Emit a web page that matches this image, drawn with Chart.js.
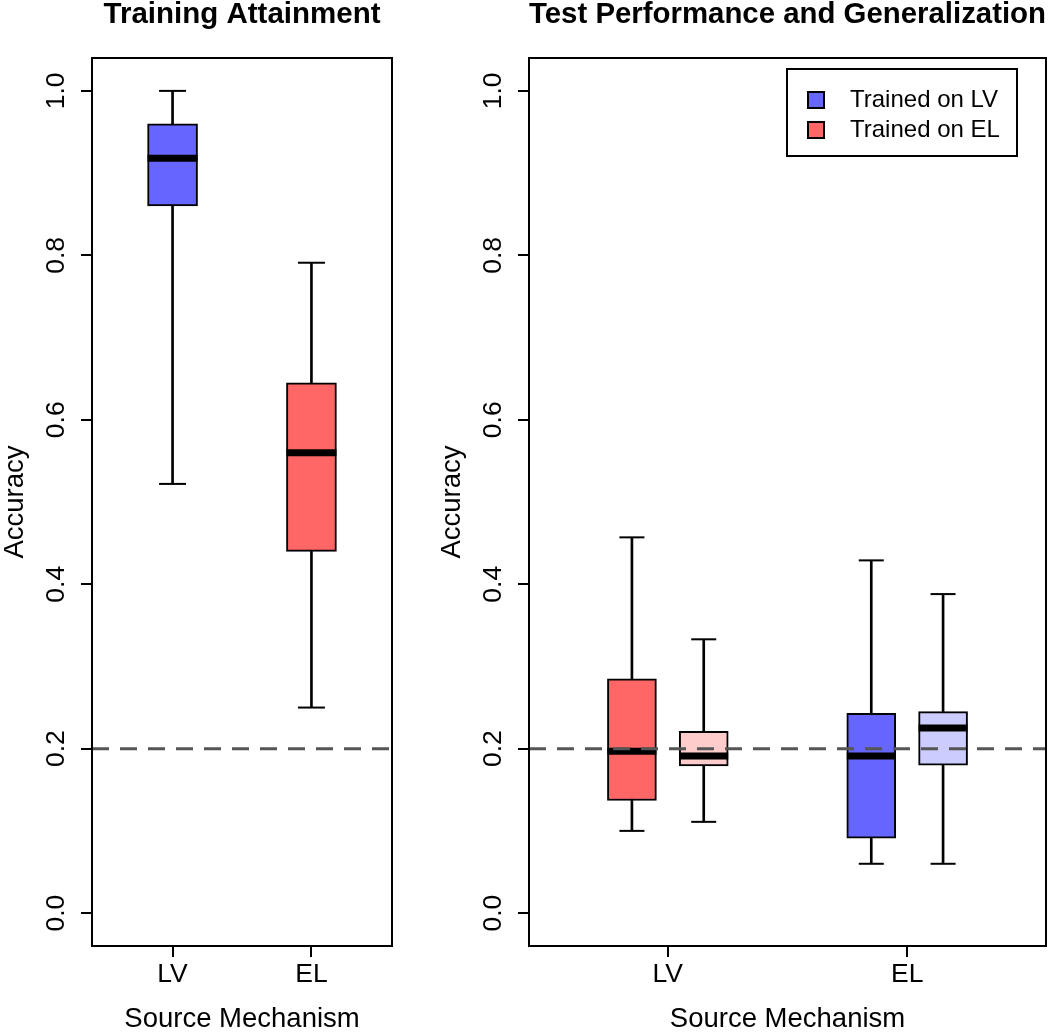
<!DOCTYPE html>
<html>
<head>
<meta charset="utf-8">
<title>Training Attainment / Test Performance and Generalization</title>
<script src="https://cdn.jsdelivr.net/npm/chart.js@4.4.1/dist/chart.umd.min.js"></script>
<style>
  html, body { margin: 0; padding: 0; background: #fff; overflow: hidden; }
  #trainChart { position: absolute; left: 0; top: 0; }
  #testChart { position: absolute; left: 437px; top: 0; }
</style>
</head>
<body>
<canvas id="trainChart" width="430" height="1033"></canvas>
<canvas id="testChart" width="613" height="1033"></canvas>
<script>
        // shared axes
        const categories = ['LV', 'EL'];
        const categoryPos = [1, 2];
        const xMin = 0.42;
        const xMax = 2.58;
        const yMin = -0.04;
        const yMax = 1.04;
        const yTicks = [0, 0.2, 0.4, 0.6, 0.8, 1.0];
        const chanceLevel = 0.2;

        // left panel: training attainment (LV blue, EL red)
        const trainPos = [1, 2];
        const trainMin = [0.522, 0.250];
        const trainQ1 = [0.860, 0.440];
        const trainMed = [0.918, 0.560];
        const trainQ3 = [0.960, 0.645];
        const trainMax = [1.000, 0.791];
        const trainColors = ['#6666FF', '#FF6666'];

        // right panel: test boxes (LV: trained on EL, trained on LV ; EL: trained on LV, trained on EL)
        const testPos = [0.85, 1.15, 1.85, 2.15];
        const testMin = [0.100, 0.111, 0.060, 0.060];
        const testQ1 = [0.137, 0.179, 0.091, 0.180];
        const testMed = [0.197, 0.191, 0.191, 0.225];
        const testQ3 = [0.285, 0.221, 0.243, 0.245];
        const testMax = [0.457, 0.333, 0.429, 0.388];
        const testColors = ['#FF6666', '#FFCCCC', '#6666FF', '#CCCCFF'];

        const legendLabels = ['Trained on LV', 'Trained on EL'];
        const legendColors = ['#6666FF', '#FF6666'];

        const fontFamily = '"Liberation Sans", Arial, Helvetica, sans-serif';
        Chart.defaults.font.family = fontFamily;
        Chart.defaults.color = '#000';

        function boxDatasets(pos, lo, q1, med, q3, hi, colors, boxWidth, capWidth) {
            return [
                {
                    type: 'line',
                    data: [{ x: xMin, y: chanceLevel }, { x: xMax, y: chanceLevel }],
                    borderColor: '#555555',
                    borderWidth: 3,
                    borderDash: [17, 11],
                    pointRadius: 0,
                    order: 0
                },
                {
                    type: 'scatter',
                    data: pos.map((x, i) => ({ x, y: med[i] })),
                    pointStyle: 'line',
                    pointRadius: boxWidth / 2,
                    pointHoverRadius: boxWidth / 2,
                    pointBorderWidth: 7,
                    pointBorderColor: '#000',
                    order: 1
                },
                {
                    type: 'scatter',
                    data: pos.flatMap((x, i) => [{ x, y: lo[i] }, { x, y: hi[i] }]),
                    pointStyle: 'line',
                    pointRadius: capWidth / 2,
                    pointHoverRadius: capWidth / 2,
                    pointBorderWidth: 2,
                    pointBorderColor: '#000',
                    order: 1
                },
                {
                    type: 'bar',
                    data: pos.map((x, i) => ({ x, y: [q1[i], q3[i]] })),
                    backgroundColor: colors,
                    borderColor: '#000',
                    borderWidth: 2,
                    borderSkipped: false,
                    barThickness: boxWidth,
                    grouped: false,
                    order: 2
                },
                {
                    type: 'bar',
                    data: pos.map((x, i) => ({ x, y: [lo[i], hi[i]] })),
                    backgroundColor: '#000',
                    borderWidth: 0,
                    barThickness: 2,
                    grouped: false,
                    order: 3
                }
            ];
        }

        function scaleConfig() {
            return {
                x: {
                    type: 'linear',
                    min: xMin,
                    max: xMax,
                    offset: false,
                    afterBuildTicks: axis => { axis.ticks = categoryPos.map(v => ({ value: v })); },
                    afterFit: axis => {
                        axis.height = 87;
                        axis.paddingLeft = 0;
                        axis.paddingRight = 0;
                    },
                    ticks: {
                        callback: (v, i) => categories[i],
                        font: { size: 26.5 },
                        color: '#000',
                        padding: 2,
                        autoSkip: false,
                        minRotation: 0,
                        maxRotation: 0
                    },
                    grid: { display: true, drawOnChartArea: false, drawTicks: true, tickLength: 11, color: '#000', lineWidth: 2, offset: false },
                    border: { display: false },
                    title: { display: true, text: 'Source Mechanism', font: { size: 27.5, lineHeight: 1 }, color: '#000', padding: 0 }
                },
                y: {
                    type: 'linear',
                    min: yMin,
                    max: yMax,
                    afterBuildTicks: axis => { axis.ticks = yTicks.map(v => ({ value: v })); },
                    afterFit: axis => {
                        axis.width = 92;
                        axis.paddingTop = 0;
                        axis.paddingBottom = 0;
                    },
                    ticks: {
                        callback: v => v.toFixed(1),
                        font: { size: 26.5 },
                        color: '#000',
                        padding: 6,
                        crossAlign: 'center',
                        autoSkip: false,
                        minRotation: 90,
                        maxRotation: 90
                    },
                    grid: { display: true, drawOnChartArea: false, drawTicks: true, tickLength: 11, color: '#000', lineWidth: 2 },
                    border: { display: false },
                    title: { display: true, text: 'Accuracy', font: { size: 27.5, lineHeight: 1.1 }, color: '#000', padding: 0 }
                }
            };
        }

        const framePlugin = {
            id: 'frame',
            afterDatasetsDraw(chart) {
                const { ctx, chartArea: a } = chart;
                ctx.save();
                ctx.strokeStyle = '#000';
                ctx.lineWidth = 2;
                ctx.strokeRect(a.left, a.top, a.right - a.left, a.bottom - a.top);
                ctx.restore();
            }
        };

        const legendPlugin = {
            id: 'boxLegend',
            afterDraw(chart) {
                const { ctx, chartArea: a } = chart;
                const left = a.right - 259;
                const top = a.top + 11;
                ctx.save();
                ctx.lineWidth = 2;
                ctx.strokeStyle = '#000';
                ctx.fillStyle = '#fff';
                ctx.fillRect(left, top, 230, 87);
                ctx.strokeRect(left, top, 230, 87);
                ctx.font = '24px ' + fontFamily;
                ctx.textBaseline = 'middle';
                legendLabels.forEach((label, i) => {
                    const cy = top + 31 + i * 30;
                    ctx.fillStyle = legendColors[i];
                    ctx.fillRect(left + 21, cy - 8, 16, 16);
                    ctx.strokeRect(left + 21, cy - 8, 16, 16);
                    ctx.fillStyle = '#000';
                    ctx.fillText(label, left + 63, cy);
                });
                ctx.restore();
            }
        };

        function makeChart(id, title, datasets, padRight, extraPlugins) {
            return new Chart(document.getElementById(id), {
                type: 'bar',
                data: { datasets },
                options: {
                    responsive: false,
                    animation: false,
                    events: [],
                    layout: { autoPadding: false, padding: { top: 0, left: 0, bottom: 0, right: padRight } },
                    scales: scaleConfig(),
                    plugins: {
                        legend: { display: false },
                        tooltip: { enabled: false },
                        title: {
                            display: true,
                            text: title,
                            fullSize: false,
                            color: '#000',
                            font: { size: 29.5, weight: 'bold', lineHeight: 1 },
                            padding: { top: 0, bottom: 28.5 }
                        }
                    }
                },
                plugins: [framePlugin].concat(extraPlugins)
            });
        }

        makeChart('trainChart', 'Training Attainment',
            boxDatasets(trainPos, trainMin, trainQ1, trainMed, trainQ3, trainMax, trainColors, 50, 27), 38, []);
        makeChart('testChart', 'Test Performance and Generalization',
            boxDatasets(testPos, testMin, testQ1, testMed, testQ3, testMax, testColors, 49, 25), 4, [legendPlugin]);
</script>
</body>
</html>
